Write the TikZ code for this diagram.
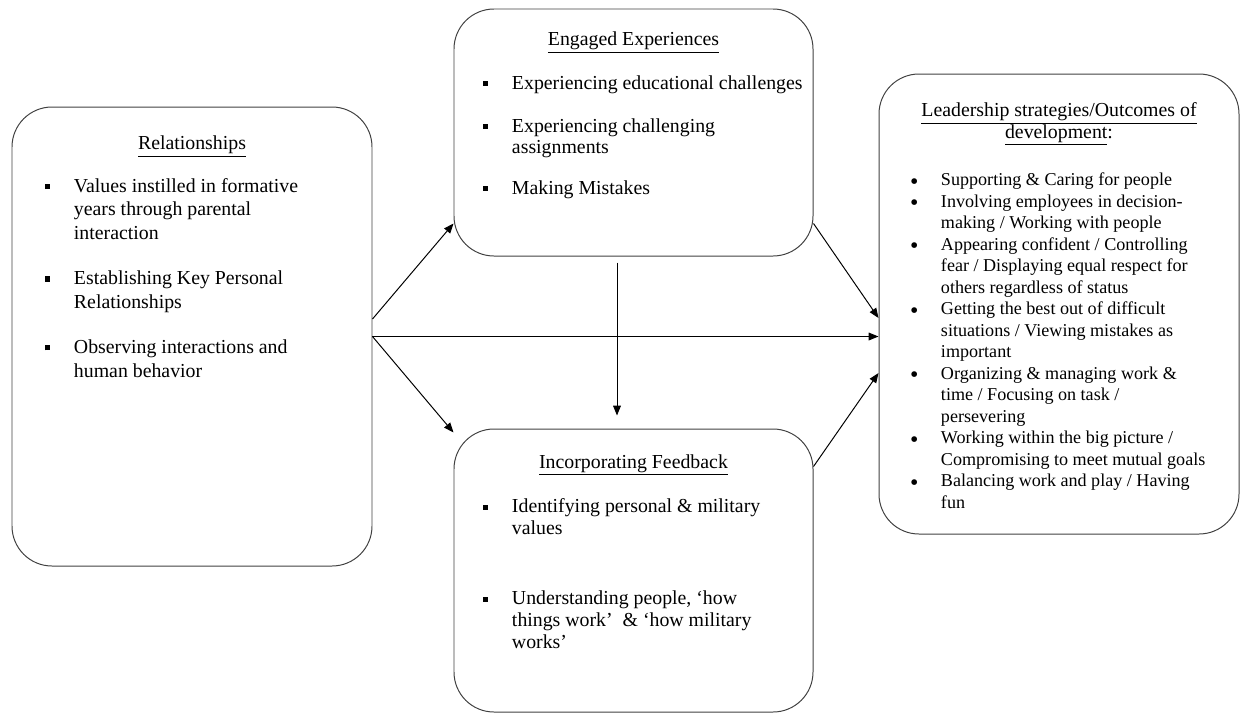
\documentclass[tikz,border=0pt]{standalone}
\usepackage{fontspec}
\setmainfont{Liberation Serif}
\usetikzlibrary{positioning}
\usetikzlibrary{arrows.meta}
\usetikzlibrary{calc}
\newlength{\px}
\setlength{\px}{0.025cm}
\tikzset{>={Triangle[length=7pt,width=5.5pt]}}
\tikzset{blk/.style={draw=black!75, rounded corners=40\px, inner sep=0pt}}
\newcommand{\sqb}{\rule[2.4pt]{3.6pt}{3.6pt}}
\newcommand{\rdb}{\hspace*{-2\px}\raisebox{-2.6pt}{\fontsize{17pt}{0pt}\selectfont\textbullet}}
\newcommand{\itm}[2]{\par\noindent\llap{\makebox[29\px][l]{#1}}#2\par}

\begin{document}
\begin{tikzpicture}[on grid, line width=0.7pt]
    \useasboundingbox (0,0) rectangle (31.025,-17.825);

    \node[blk] (rel) at (4.8,-8.4125) {\begin{minipage}[t][11.475cm][t]{9cm}
        \fontsize{14.1pt}{16.7pt}\selectfont\raggedright\leftskip=62\px
        {\centering\rule{0pt}{43\px}\underline{Relationships}\par}
        \vspace{19\px}
        \itm{\sqb}{Values instilled in formative\\years through parental\\interaction}
        \vspace{22\px}
        \itm{\sqb}{Establishing Key Personal\\Relationships}
        \vspace{22\px}
        \itm{\sqb}{Observing interactions and\\human behavior}
    \end{minipage}};

    \node[blk] (eng) at (15.8375,-3.3125) {\begin{minipage}[t][6.175cm][t]{8.975cm}
        \fontsize{14.1pt}{15pt}\selectfont\raggedright\leftskip=58\px
        {\centering\rule{0pt}{37\px}\underline{Engaged Experiences}\par}
        \vspace{22\px}
        \itm{\sqb}{Experiencing educational challenges}
        \vspace{22\px}
        \itm{\sqb}{Experiencing challenging\\assignments}
        \vspace{20\px}
        \itm{\sqb}{Making Mistakes}
    \end{minipage}};

    \node[blk, below=10.95 of eng] (fb) {\begin{minipage}[t][7.075cm][t]{8.975cm}
        \fontsize{14.1pt}{15.65pt}\selectfont\raggedright\leftskip=58\px
        {\centering\rule{0pt}{39\px}\underline{Incorporating Feedback}\par}
        \vspace{23\px}
        \itm{\sqb}{Identifying personal \& military\\values}
        \vspace{48\px}
        \itm{\sqb}{Understanding people, `how\\things work' \ \& `how military\\works'}
    \end{minipage}};

    \node[blk] (rt) at (26.475,-7.6) {\begin{minipage}[t][11.5cm][t]{9cm}
        \fontsize{14.1pt}{15pt}\selectfont\raggedright\leftskip=62\px
        {\centering\rule{0pt}{43\px}\underline{Leadership strategies/Outcomes of}\\
        \underline{development}:\par}
        \fontsize{12.87pt}{15.3pt}\selectfont
        \vspace{26\px}
        \itm{\rdb}{Supporting \& Caring for people}
        \itm{\rdb}{Involving employees in decision-\\making / Working with people}
        \itm{\rdb}{Appearing confident / Controlling\\fear / Displaying equal respect for\\others regardless of status}
        \itm{\rdb}{Getting the best out of difficult\\situations / Viewing mistakes as\\important}
        \itm{\rdb}{Organizing \& managing work \&\\time / Focusing on task /\\persevering}
        \itm{\rdb}{Working within the big picture /\\Compromising to meet mutual goals}
        \itm{\rdb}{Balancing work and play / Having\\fun}
    \end{minipage}};

    \draw[->] ($(rel.east)+(0,0.4375)$) -- ($(eng.south west)+(0,0.825)$);
    \draw[->] (rel.east) -- (rel.east -| rt.west);
    \draw[->] (rel.east) -- ($(fb.north west)+(0,-0.1)$);

    \draw[->] ($(eng.south)+(-0.4125,-0.15)$) -- ($(fb.north)+(-0.4125,0.325)$);

    \draw[->] ($(eng.south east)+(0,0.825)$) -- ($(rt.west)+(0,-0.35)$);
    \draw[->] ($(fb.north east)+(0,-0.95)$) -- ($(rt.west)+(0,-1.725)$);
\end{tikzpicture}
\end{document}
